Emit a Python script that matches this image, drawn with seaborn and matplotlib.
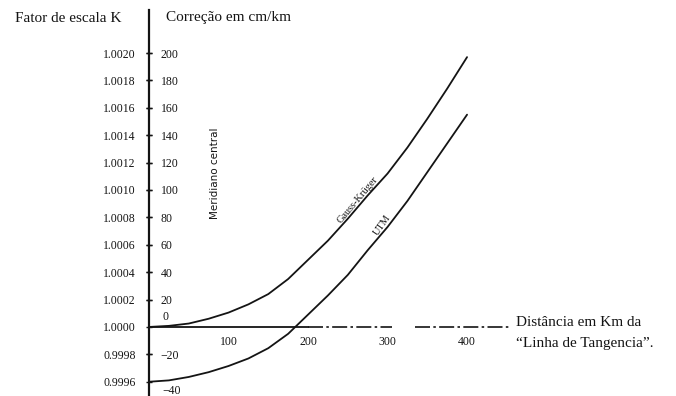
import matplotlib
matplotlib.use('Agg')
import matplotlib.pyplot as plt
import numpy as np
import pandas as pd
import seaborn as sns

# distance from the central meridian (km) and correction (cm/km)
distance_km = [0, 25, 50, 75, 100, 125, 150, 175, 200, 225, 250, 275, 300, 325, 350, 375, 400]
gauss_kruger = [0, 0.8, 2.5, 6, 10.5, 16.5, 24, 35, 49, 63, 79, 96, 112, 131, 152, 174, 197]
utm = [-40, -39, -36.5, -33, -28.5, -23, -15.5, -5, 9, 23, 38, 56, 73, 92, 113, 134, 155]

corr_ticks = [-40, -20, 0, 20, 40, 60, 80, 100, 120, 140, 160, 180, 200]
k_labels = ['0.9996', '0.9998', '1.0000', '1.0002', '1.0004', '1.0006', '1.0008',
            '1.0010', '1.0012', '1.0014', '1.0016', '1.0018', '1.0020']
x_ticks = [50, 100, 150, 200, 250, 300, 350, 400]
x_labels = ['', '100', '', '200', '', '300', '', '400']

# pieces of the distance axis: solid, then dash-dotted as in the print
AXIS_SOLID = (0, 200)
AXIS_DASHED = [(200, 305), (335, 455)]

INK = '#141414'
SERIF = 'Liberation Serif'

sns.set_style('white')
plt.rcParams['font.family'] = [SERIF, 'DejaVu Serif']


def main():
    fig = plt.figure(figsize=(6.76, 3.96), dpi=100)
    ax = fig.add_axes([149 / 676, 0.0, 361 / 676, 386 / 396])

    df = pd.DataFrame({
        'km': distance_km * 2,
        'corr': gauss_kruger + utm,
        'proj': ['Gauss-Krüger'] * len(distance_km) + ['UTM'] * len(distance_km),
    })
    sns.lineplot(data=df, x='km', y='corr', units='proj', estimator=None,
                 color=INK, linewidth=1.3, legend=False, ax=ax)

    ax.set_xlim(0, 454)
    ax.set_ylim(-50.4, 231.4)
    ax.set_xlabel('')
    ax.set_ylabel('')

    for side in ['top', 'right']:
        ax.spines[side].set_visible(False)
    ax.spines['left'].set_color(INK)
    ax.spines['left'].set_linewidth(1.6)
    ax.spines['bottom'].set_position(('data', 0))
    ax.spines['bottom'].set_bounds(*AXIS_SOLID)
    ax.spines['bottom'].set_color(INK)
    ax.spines['bottom'].set_linewidth(1.3)
    for start, end in AXIS_DASHED:
        ax.plot([start, end], [0, 0], color=INK, linewidth=1.2,
                linestyle=(0, (9, 2, 1.5, 2)))

    # left side: scale factor K
    ax.set_yticks(corr_ticks)
    ax.set_yticklabels(k_labels)
    ax.tick_params(axis='y', direction='inout', length=5, width=1.0, color=INK,
                   labelsize=8.5, labelcolor=INK, pad=7)
    ax.set_xticks(x_ticks)
    ax.set_xticklabels(x_labels)
    ax.tick_params(axis='x', direction='inout', length=5, width=0.9, color=INK,
                   labelsize=8.5, labelcolor=INK, pad=4)

    # right side of the same axis line: correction in cm/km
    # (0 and -40 sit off their ticks in the print, so they are placed separately)
    ax2 = ax.twinx()
    ax2.set_ylim(ax.get_ylim())
    ax2.spines['right'].set_position(('axes', 0))
    for side in ['top', 'left', 'bottom', 'right']:
        ax2.spines[side].set_visible(False)
    right_ticks = [t for t in corr_ticks if t not in (0, -40)]
    ax2.set_yticks(right_ticks)
    ax2.set_yticklabels([f'{t:d}'.replace('-', '\u2212') for t in right_ticks])
    ax2.tick_params(axis='y', direction='inout', length=5, width=1.0, color=INK,
                    labelsize=8.5, labelcolor=INK, pad=6)
    ax2.grid(False)
    ax.annotate('0', xy=(0, 0), xytext=(12, 2.5), textcoords='offset points',
                fontsize=8.5, color=INK, ha='center', va='bottom')
    ax.annotate('\u221240', xy=(0, -40), xytext=(9.5, -6.5), textcoords='offset points',
                fontsize=8.5, color=INK, ha='left', va='center')

    # curve labels and the central meridian note
    ax.text(262, 93, 'Gauss-Krüger', rotation=50, fontsize=7.5, color=INK,
            ha='center', va='center')
    ax.text(293, 74, 'UTM', rotation=55, fontsize=7.5, color=INK,
            ha='center', va='center')
    ax.text(83, 112, 'Meridiano central', rotation=90, fontsize=7.5, color=INK,
            family='DejaVu Sans', ha='center', va='center')

    fig.text(15 / 676, 1 - 18 / 396, 'Fator de escala K', fontsize=11, color=INK,
             ha='left', va='center')
    fig.text(166 / 676, 1 - 18 / 396, 'Correção em cm/km', fontsize=11, color=INK,
             ha='left', va='center')
    fig.text(516 / 676, 1 - 323 / 396, 'Distância em Km da', fontsize=11, color=INK,
             ha='left', va='center')
    fig.text(516 / 676, 1 - 343 / 396, '\u201cLinha de Tangencia\u201d.', fontsize=11,
             color=INK, ha='left', va='center')

    fig.savefig('out.png', dpi=100, facecolor='white')
    plt.close(fig)


if __name__ == '__main__':
    main()
